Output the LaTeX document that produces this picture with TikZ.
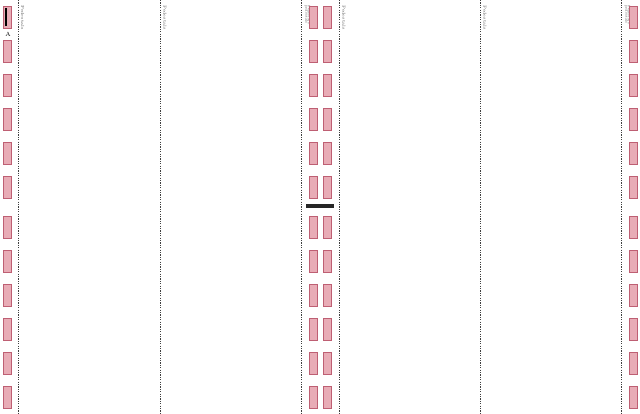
\documentclass[tikz,border=0pt]{standalone}
\usepackage{tikz}
\definecolor{shelffill}{RGB}{232,172,182}
\definecolor{shelfline}{RGB}{190,95,115}
\begin{document}
\begin{tikzpicture}[x=1pt,y=1pt,yscale=-1,xscale=1,
  shelfbox/.style={draw=shelfline,fill=shelffill,line width=0.7pt,minimum width=8pt,minimum height=22pt,inner sep=0pt},
  divider/.style={draw=black!75,line width=0.6pt,dash pattern=on 1.2pt off 1.2pt},
  tag/.style={text=black!65,font=\fontsize{4.4}{5}\selectfont,rotate=-90,anchor=south west,inner sep=0pt,align=left},
  smalltag/.style={tag,font=\fontsize{3.4}{2.6}\selectfont}]
\useasboundingbox (0,0) rectangle (640,414);

%Dashed dividers
\foreach \x [count=\i] in {18,160,301,339,480,621}
  \draw[divider] (\x,0) -- (\x,414);

% Text Nodes
\foreach \x [count=\i] in {21,163,342,483}
  \node[tag] (lbl\i) at (\x,5) {Pedestals};
\node[smalltag] (lblm) at (304.5,5) {Pedestals\\pedestals};
\node[smalltag] (lblr) at (624.5,5) {Pedestals\\pedestals};

%Shelf boxes
\foreach \y [count=\j] in {17,51,85,119,153,187,227,261,295,329,363,397} {
  \node[shelfbox] (la\j) at (7,\y) {};
  \node[shelfbox] (ma\j) at (313,\y) {};
  \node[shelfbox] (mb\j) at (327,\y) {};
  \node[shelfbox] (ra\j) at (633,\y) {};
}

%Marker in first box
\draw[line width=1.6pt,black] (6,8) -- (6,26);
% Text Node
\node[font=\fontsize{6}{6}\selectfont,inner sep=0pt] (lblA) at (8,34) {A};

%Aisle bar
\fill[black!85] (306,204) rectangle (334,208.5);

\end{tikzpicture}
\end{document}
